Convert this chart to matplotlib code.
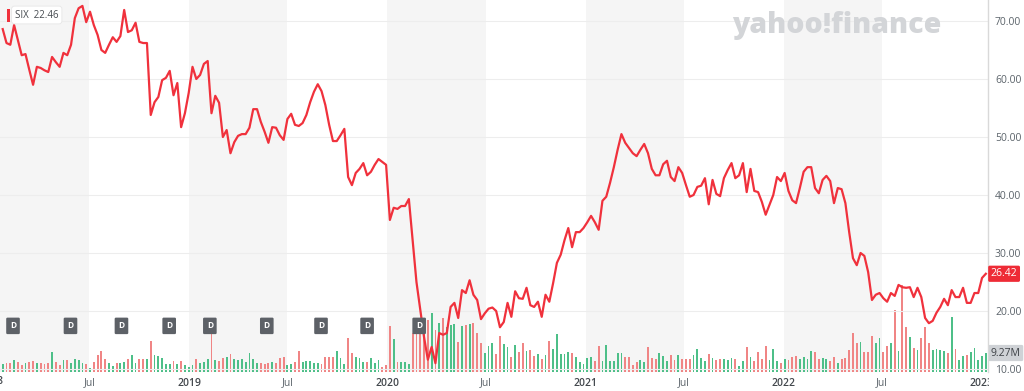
import numpy as np
import pandas as pd
import matplotlib
matplotlib.use("Agg")
import matplotlib.pyplot as plt
from matplotlib.patches import Rectangle

plt.rcParams["font.family"] = ["Open Sans", "DejaVu Sans"]

# weekly closes (SIX)
start_week = "2018-01-22"
prices = [
    68.6, 66.2, 65.9, 69.3, 66.7, 64.1, 64.3, 61.6, 59.0, 62.1, 61.9, 61.5, 61.2, 63.8, 62.9, 62.1,
    64.5, 64.1, 65.9, 70.5, 72.2, 72.6, 69.8, 71.6, 69.3, 67.6, 65.0, 64.5, 65.9, 67.2, 66.4, 67.4,
    71.9, 68.1, 68.4, 69.7, 66.4, 66.2, 66.2, 53.8, 56.0, 56.9, 59.8, 60.2, 61.4, 57.2, 59.3, 51.7,
    54.1, 57.6,
    62.1, 60.0, 60.7, 62.6, 63.1, 54.1, 57.1, 55.9, 50.0, 51.2, 47.2, 49.1, 50.2, 50.5, 50.5, 51.6,
    54.8, 54.8, 52.6, 50.9, 49.0, 51.7, 51.6, 50.3, 49.5, 53.1, 54.0, 52.1, 51.9, 52.4, 53.8, 56.0,
    57.8, 59.1, 57.9, 55.5, 52.1, 49.3, 49.3, 50.3, 51.4, 43.1, 41.7, 43.8, 44.5, 45.5, 43.4, 44.0,
    45.2, 46.2, 45.7, 45.2,
    35.7, 37.8, 37.6, 38.1, 38.1, 39.3, 32.2, 25.0, 20.2, 15.5, 11.6, 13.8, 11.0, 16.2, 15.9, 16.2,
    20.7, 21.4, 18.8, 23.6, 23.1, 25.3, 22.8, 21.9, 18.6, 19.6, 20.4, 20.6, 20.0, 17.2, 18.1, 21.4,
    19.0, 23.4, 22.2,
    22.1, 24.0, 21.0, 20.7, 21.6, 19.0, 22.8, 21.6, 24.8, 28.3, 29.7, 32.2, 34.3, 31.0, 33.6, 33.6,
    34.3, 35.3, 36.4, 35.3, 34.0, 39.0, 39.7, 42.1, 44.8, 47.8, 50.5, 49.0, 48.1, 47.2, 46.7, 47.8,
    48.8, 47.2, 44.5, 43.4, 43.4, 45.3, 45.9, 43.1, 42.4, 44.8,
    43.8, 41.7, 39.7, 40.0, 41.4, 41.6, 42.9, 38.4, 42.6, 40.2, 39.8, 42.9, 44.3, 45.5, 42.9, 43.4,
    45.5, 40.5, 44.5, 40.7, 40.5, 38.8, 36.6, 38.3, 40.0, 43.1, 42.4, 43.8, 40.7, 39.1, 38.6, 41.2,
    44.0, 44.8, 44.8, 41.2, 40.3, 42.6, 43.3, 42.4, 38.6, 41.2, 41.0, 38.6, 33.6, 29.1, 27.9, 30.0,
    29.5, 26.7, 21.9, 22.8, 23.1, 22.2, 21.6, 23.1, 22.6, 24.5, 24.1, 24.0, 24.1, 22.4, 24.0, 22.4,
    18.8, 17.9, 18.3, 19.7, 20.7, 22.1, 21.0, 23.6, 22.4, 22.4, 24.0, 21.4, 21.4, 23.1, 23.1, 25.7,
    26.42,
]

# weekly volume, millions
volumes = [
    3.9, 4.6, 4.6, 5.9, 5.0, 3.4, 4.2, 4.7, 5.4, 4.2, 4.2, 3.9, 4.2, 9.9, 4.9, 3.4, 5.9, 5.9, 4.6, 6.2,
    5.9, 4.6, 3.9, 2.1, 5.0, 8.3, 10.4, 6.2, 4.2, 2.9, 4.2, 4.2, 5.0, 6.2, 8.3, 4.6, 6.2, 6.2, 6.2, 15.1,
    8.3, 7.8, 7.0, 3.9, 3.9, 5.5, 3.9, 5.4, 3.4, 2.6, 3.4, 6.2, 4.6, 5.0, 6.2, 18.5, 5.9, 5.4, 7.0, 7.2,
    8.6, 6.2, 5.9, 6.2, 4.7, 9.1, 6.3, 4.2, 4.2, 3.9, 4.6, 5.0, 4.6, 6.7, 7.2, 3.4, 3.7, 5.0, 10.4, 5.0,
    5.4, 5.4, 4.6, 4.2, 3.9, 7.5, 7.2, 7.2, 10.4, 6.7, 3.7, 16.4,
    9.1, 7.5, 6.7, 5.0, 5.0, 6.7, 4.6, 5.9, 2.6, 3.4, 22.5, 16.1, 5.0, 5.0, 5.0, 3.7, 19.2, 19.2, 20.5, 26.2,
    25.4, 28.6, 20.5, 23.8, 26.2, 22.0, 22.9, 23.4, 14.8, 22.5, 22.9, 23.4, 24.1, 18.9, 14.3, 9.1, 12.7, 14.0, 8.8, 17.6,
    13.7, 12.4, 7.5, 13.2, 9.9, 14.3, 10.4, 10.7, 7.8, 8.8, 6.2, 8.3, 15.3, 11.1, 18.5, 8.8, 8.8, 9.9, 9.4, 7.5,
    5.0, 3.9, 7.0, 7.2, 5.4, 12.7, 5.4, 13.2, 5.4, 5.5, 9.4, 9.1, 7.5, 7.5, 3.4, 5.0, 5.9, 5.0, 12.0, 6.7,
    6.2, 9.1, 7.8, 5.4, 8.3, 5.9, 8.3, 6.2, 6.2, 6.2,
    8.3, 11.1, 6.7, 5.5, 8.8, 6.7, 5.9, 6.2, 6.2, 5.9, 6.7, 6.2, 2.9, 5.5, 12.4, 7.5, 5.5, 9.9, 6.2, 12.7,
    5.9, 11.1, 5.5, 4.2, 6.2, 5.9, 7.2, 7.8, 6.2, 7.5, 6.2, 10.3, 9.9, 6.2, 7.0, 6.2, 5.5, 7.2, 4.2, 6.2,
    6.7, 10.7, 19.2, 14.3, 14.8, 9.9, 9.9, 17.6, 14.0, 16.4, 9.9, 12.7, 14.0, 30.3, 10.4, 42.5, 21.8, 17.2, 11.6, 10.7,
    16.4, 21.8, 14.3, 10.7, 11.1, 10.7, 10.3, 9.1, 26.7, 11.1, 5.9, 7.8, 8.3, 9.9, 11.6, 5.9, 7.8, 9.27,
]

dividend_dates = ["2018-02-10", "2018-05-27", "2018-08-29", "2018-11-25", "2019-02-08",
                  "2019-05-24", "2019-09-01", "2019-11-25", "2020-02-29"]

ticker = "SIX"
legend_value = 22.46
last_price = 26.42
last_volume = 9.27

price_ticks = [10, 20, 30, 40, 50, 60, 70]
x_tick_dates = ["2018-07-01", "2019-01-01", "2019-07-01", "2020-01-01", "2020-07-01", "2021-01-01",
                "2021-07-01", "2022-01-01", "2022-07-01", "2023-01-01"]
x_tick_labels = ["Jul", "2019", "Jul", "2020", "Jul", "2021", "Jul", "2022", "Jul", "2023"]

dates = pd.date_range(start_week, periods=len(prices), freq="7D")
prices = np.array(prices)
volumes = np.array(volumes)

RED = "#f0313c"
GREEN_BAR = "#4dbf88"
RED_BAR = "#f08585"
TXT = "#5b636a"

W, H = 1024, 391
fig = plt.figure(figsize=(W / 100, H / 100), dpi=100)
rect = [0, 19 / H, 988 / W, 372 / H]

# volume axes underneath
axv = fig.add_axes(rect)
for y in range(2018, 2023):
    axv.axvspan(pd.Timestamp(f"{y}-01-01"), pd.Timestamp(f"{y}-07-01"),
                color="#f5f5f5", lw=0, zorder=0)
up = np.diff(prices, prepend=prices[0]) >= 0
bar_cols = np.where(up, GREEN_BAR, RED_BAR)
axv.bar(dates, volumes, width=3.4, color=bar_cols, zorder=2)
axv.set_ylim(0, 181.5)
axv.set_xlim(pd.Timestamp("2018-01-17"), pd.Timestamp("2023-01-13"))
axv.xaxis.set_visible(False)
axv.yaxis.set_visible(False)
for s in axv.spines.values():
    s.set_visible(False)

# price axes on top
ax = fig.add_axes(rect)
ax.patch.set_visible(False)
ax.plot(dates, prices, color=RED, lw=1.6, zorder=3)
ax.set_ylim(9.483, 73.62)
ax.set_xlim(pd.Timestamp("2018-01-17"), pd.Timestamp("2023-01-13"))
ax.yaxis.tick_right()
ax.set_yticks(price_ticks)
ax.set_yticklabels([f"{v:.2f}" for v in price_ticks])
ax.tick_params(axis="y", length=0, pad=5, labelsize=7.5, labelcolor=TXT)
ax.grid(axis="y", color="#ededed", lw=0.8, zorder=1)
ax.set_axisbelow(True)
for s in ["top", "left", "bottom"]:
    ax.spines[s].set_visible(False)
ax.spines["right"].set_color("#d9d9d9")
ax.spines["right"].set_linewidth(1)

ax.set_xticks(pd.to_datetime(x_tick_dates))
ax.set_xticklabels(x_tick_labels)
ax.tick_params(axis="x", length=0, pad=4, labelsize=7.5, labelcolor=TXT)
for lbl in ax.get_xticklabels():
    if lbl.get_text() != "Jul":
        lbl.set_color("#43484d")
        lbl.set_fontweight("semibold")
# partially visible 2018 label at the left edge
ax.text(pd.Timestamp("2018-01-01"), -0.0255, "2018", transform=ax.get_xaxis_transform(),
        ha="center", va="center", fontsize=7.5, color="#43484d", fontweight="semibold",
        clip_on=False)

# dividend markers
for d in dividend_dates:
    ax.text(pd.Timestamp(d), 0.124, "D", transform=ax.get_xaxis_transform(),
            ha="center", va="center", fontsize=6, color="white", fontweight="bold", zorder=5,
            bbox=dict(boxstyle="round,pad=0.45,rounding_size=0.15", fc="#5d6167", ec="none"))

# last price / volume flags
ax.annotate(f"{last_price:.2f}", xy=(1, last_price), xycoords=ax.get_yaxis_transform(),
            xytext=(2, 0), textcoords="offset points", ha="left", va="center",
            fontsize=7.5, color="white", annotation_clip=False,
            bbox=dict(boxstyle="round,pad=0.25,rounding_size=0.15", fc="#ee2b36", ec="none"))
axv.annotate(f"{last_volume:.2f}M", xy=(1, last_volume), xycoords=axv.get_yaxis_transform(),
             xytext=(2, 0), textcoords="offset points", ha="left", va="center",
             fontsize=7.5, color="#3c4045", annotation_clip=False, zorder=6,
             bbox=dict(boxstyle="round,pad=0.25,rounding_size=0.15", fc="#cfd2d6", ec="none"))

# legend chip
fig.text(15 / W, 1 - 15 / H, f"{ticker}  {legend_value:.2f}", ha="left", va="center",
         fontsize=7, color="#464b50",
         bbox=dict(boxstyle="round,pad=0.35,rounding_size=0.3", fc="white", ec="#e6e6e6", lw=0.6))
fig.add_artist(Rectangle((7 / W, 1 - 22 / H), 2.5 / W, 13 / H, transform=fig.transFigure,
                         fc=RED, ec="none", zorder=10))

# watermark
fig.text(941 / W, 1 - 33 / H, "yahoo!finance", ha="right", va="baseline", fontsize=20.5,
         fontweight="heavy", color="#d3d5d8", zorder=0)

# hide the clipped part of the 2023 label
fig.add_artist(Rectangle((988.5 / W, 0), 1, 16 / H, transform=fig.transFigure,
                         fc="white", ec="none", zorder=10))

fig.savefig("out.png", dpi=100)
